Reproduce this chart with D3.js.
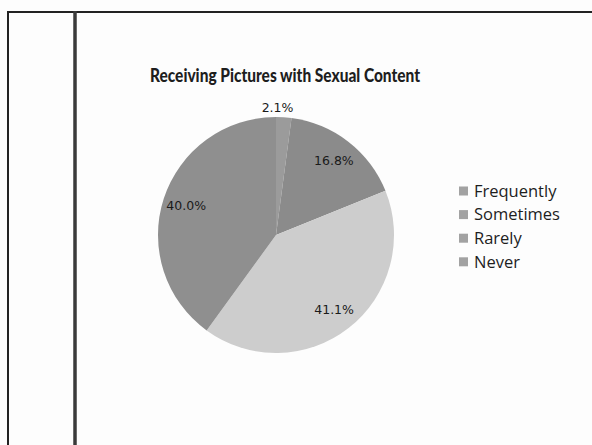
<!DOCTYPE html>
<html>
<head>
<meta charset="utf-8">
<script src="https://cdn.jsdelivr.net/npm/d3@7"></script>
<style>
  html, body { margin: 0; padding: 0; background: #fdfdfd; }
  svg { display: block; }
</style>
</head>
<body>
<svg id="chart" width="592" height="445"></svg>
<script>
// Survey responses: how often pictures with sexual content were received
const categories = ["Frequently", "Sometimes", "Rarely", "Never"];
const percents = [2.1, 16.8, 41.1, 40.0];
const sliceColors = ["#9b9b9b", "#8b8b8b", "#cdcdcd", "#8f8f8f"];
const legendColor = "#a2a2a2";
const title = "Receiving Pictures with Sexual Content";

const svg = d3.select("#chart");

// Page frame lines
const frame = svg.append("g").attr("stroke", "#222").attr("fill", "none");
frame.append("line").attr("x1", 7).attr("x2", 592).attr("y1", 12).attr("y2", 12).attr("stroke-width", 2);
frame.append("line").attr("x1", 8).attr("x2", 8).attr("y1", 11).attr("y2", 445).attr("stroke-width", 2);
frame.append("line").attr("x1", 75).attr("x2", 75).attr("y1", 11).attr("y2", 445).attr("stroke-width", 3.5).attr("stroke", "#3a3a3a");

// Title
svg.append("text")
  .attr("x", 285).attr("y", 82)
  .attr("text-anchor", "middle")
  .attr("font-family", "Lato, 'Open Sans', sans-serif")
  .attr("font-weight", "900")
  .attr("font-size", 19.5)
  .attr("textLength", 270)
  .attr("lengthAdjust", "spacingAndGlyphs")
  .attr("fill", "#1e1e1e")
  .text(title);

// Pie
const cx = 276, cy = 235, r = 118;
const data = categories.map((c, i) => ({ name: c, value: percents[i], color: sliceColors[i] }));
const pie = d3.pie().value(d => d.value).sort(null);
const arcs = pie(data);
const arc = d3.arc().innerRadius(0).outerRadius(r);

const g = svg.append("g").attr("transform", `translate(${cx},${cy})`);
g.selectAll("path.slice")
  .data(arcs)
  .join("path")
  .attr("class", "slice")
  .attr("d", arc)
  .attr("fill", d => d.data.color);

// Percentage labels: inside for large slices, just outside for the thin one
const labelArc = d3.arc().innerRadius(r * 0.8).outerRadius(r * 0.8);
const outerLabelArc = d3.arc().innerRadius(r * 1.08).outerRadius(r * 1.08);
g.selectAll("text.pct")
  .data(arcs)
  .join("text")
  .attr("class", "pct")
  .attr("transform", d => {
    const p = d.data.value < 5 ? outerLabelArc.centroid(d) : labelArc.centroid(d);
    return `translate(${p[0]},${p[1]})`;
  })
  .attr("text-anchor", d => d.data.value < 5 ? "end" : "middle")
  .attr("dx", d => d.data.value < 5 ? 9 : 0)
  .attr("dy", "0.35em")
  .attr("font-family", "'DejaVu Sans', sans-serif")
  .attr("font-size", 12.5)
  .attr("fill", "#1a1a1a")
  .text(d => d.data.value.toFixed(1) + "%");

// Legend
const legend = svg.append("g").attr("transform", "translate(459,191)");
const rows = legend.selectAll("g")
  .data(categories)
  .join("g")
  .attr("transform", (d, i) => `translate(0,${i * 23.6})`);
rows.append("rect")
  .attr("x", 0).attr("y", -4.5)
  .attr("width", 9).attr("height", 9)
  .attr("fill", legendColor);
rows.append("text")
  .attr("x", 15).attr("dy", "0.35em")
  .attr("font-family", "'Open Sans', sans-serif")
  .attr("font-size", 16.5)
  .attr("fill", "#1e1e1e")
  .text(d => d);
</script>
</body>
</html>
